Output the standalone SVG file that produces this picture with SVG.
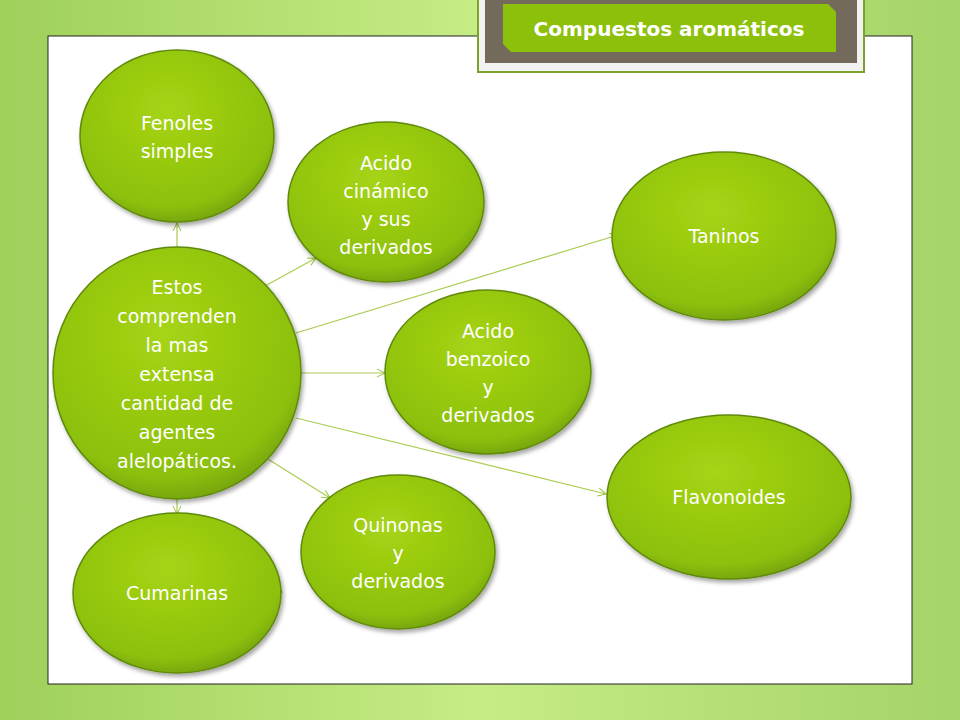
<svg xmlns="http://www.w3.org/2000/svg" width="960" height="720" viewBox="0 0 960 720">
<defs>
<linearGradient id="bg" x1="0" y1="0" x2="1" y2="0"><stop offset="0" stop-color="#9fd05a"/><stop offset="0.5" stop-color="#c6ec86"/><stop offset="1" stop-color="#a5d468"/></linearGradient>
<radialGradient id="nd" cx="0.45" cy="0.35" r="0.7"><stop offset="0" stop-color="#a6d414"/><stop offset="0.8" stop-color="#8cc00a"/><stop offset="1" stop-color="#6e9a06"/></radialGradient>
<marker id="ar" markerWidth="10" markerHeight="10" refX="9" refY="5" orient="auto" markerUnits="userSpaceOnUse"><path d="M1,1 L9,5 L1,9" fill="none" stroke="#9ac43a" stroke-width="1"/></marker>
<filter id="sh" x="-20%" y="-20%" width="140%" height="140%"><feDropShadow dx="2" dy="3" stdDeviation="2" flood-color="#000" flood-opacity="0.35"/></filter>
</defs>
<style>
.n{fill:url(#nd);stroke:#5f8a0a;stroke-width:1.5;filter:url(#sh)}
.t{font-family:"DejaVu Sans",sans-serif;font-size:19px;fill:#fff;text-anchor:middle}
.c line{stroke:#a8cc50;stroke-width:1.2;marker-end:url(#ar)}
</style>
<rect width="960" height="720" fill="url(#bg)"/>
<rect x="48" y="36" width="864" height="648" fill="#fff" stroke="#222" stroke-width="1"/>
<g id="title">
<rect x="478" y="-2" width="386" height="74" fill="#f2f2f2" stroke="#7da22a" stroke-width="2"/>
<rect x="485" y="-2" width="372" height="65" fill="#746a5c"/>
<path d="M503,4 H828 L836,12 V52 H511 L503,44 Z" fill="#8cc00a"/>
<text x="669" y="36" font-family="DejaVu Sans,sans-serif" font-size="20" font-weight="bold" fill="#fff" text-anchor="middle">Compuestos aromáticos</text>
</g>
<g class="c">
<line x1="177" y1="248" x2="177" y2="223"/>
<line x1="265" y1="286" x2="316" y2="258"/>
<line x1="296" y1="333" x2="618" y2="235"/>
<line x1="301" y1="373" x2="385" y2="373"/>
<line x1="296" y1="418" x2="606" y2="494"/>
<line x1="263" y1="456" x2="330" y2="498"/>
<line x1="177" y1="499" x2="177" y2="514"/>
<line x1="182" y1="516" x2="282" y2="592" stroke-opacity="0.5"/>
</g>
<g id="fenoles"><ellipse class="n" cx="177" cy="136" rx="97" ry="86"/><text class="t" x="177" y="130">Fenoles</text><text class="t" x="177" y="158">simples</text></g>
<g id="cinamico"><ellipse class="n" cx="386" cy="202" rx="98" ry="80"/><text class="t" x="386" y="170">Acido</text><text class="t" x="386" y="198">cinámico</text><text class="t" x="386" y="226">y sus</text><text class="t" x="386" y="254">derivados</text></g>
<g id="taninos"><ellipse class="n" cx="724" cy="236" rx="112" ry="84"/><text class="t" x="724" y="243">Taninos</text></g>
<g id="centro"><ellipse class="n" cx="177" cy="373" rx="124" ry="126"/>
<text class="t" x="177" y="294">Estos</text><text class="t" x="177" y="323">comprenden</text><text class="t" x="177" y="352">la mas</text><text class="t" x="177" y="381">extensa</text><text class="t" x="177" y="410">cantidad de</text><text class="t" x="177" y="439">agentes</text><text class="t" x="177" y="468">alelopáticos.</text></g>
<g id="benzoico"><ellipse class="n" cx="488" cy="372" rx="103" ry="82"/><text class="t" x="488" y="338">Acido</text><text class="t" x="488" y="366">benzoico</text><text class="t" x="488" y="394">y</text><text class="t" x="488" y="422">derivados</text></g>
<g id="flavonoides"><ellipse class="n" cx="729" cy="497" rx="122" ry="82"/><text class="t" x="729" y="504">Flavonoides</text></g>
<g id="quinonas"><ellipse class="n" cx="398" cy="552" rx="97" ry="77"/><text class="t" x="398" y="532">Quinonas</text><text class="t" x="398" y="560">y</text><text class="t" x="398" y="588">derivados</text></g>
<g id="cumarinas"><ellipse class="n" cx="177" cy="593" rx="104" ry="80"/><text class="t" x="177" y="600">Cumarinas</text></g>
</svg>
